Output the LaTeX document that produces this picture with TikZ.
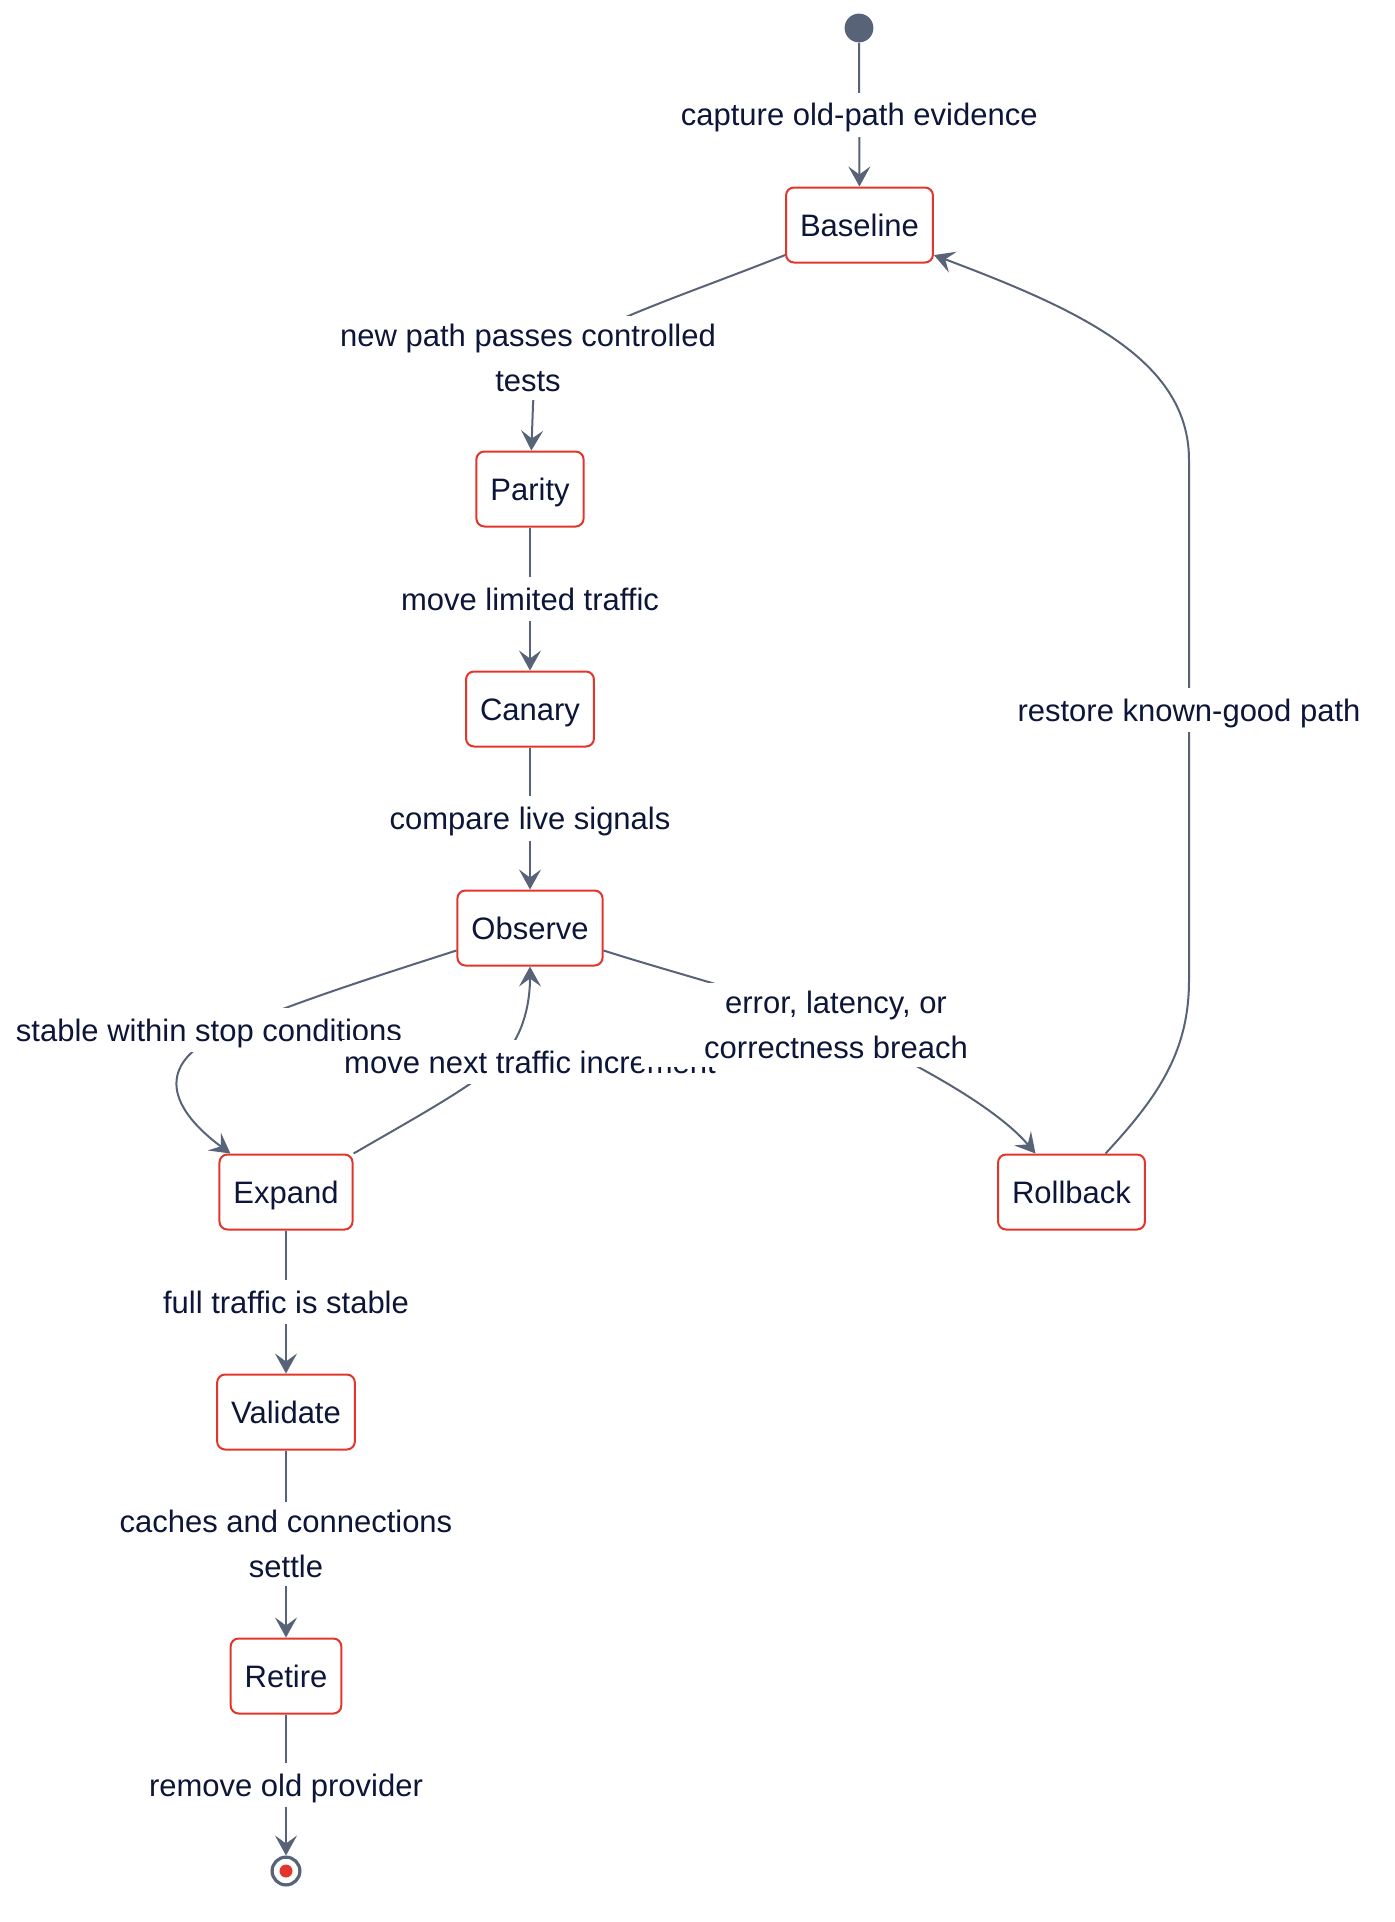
\documentclass[tikz,border=0pt]{standalone}
\usepackage{fontspec}
\setmainfont{Liberation Sans}
\usetikzlibrary{arrows.meta}
\definecolor{rojocaja}{RGB}{226,54,43}
\definecolor{tinta}{RGB}{13,22,56}
\definecolor{gris}{RGB}{88,99,120}
\begin{document}
\begin{tikzpicture}[x=0.5pt,y=-0.5pt,font=\fontsize{15.5}{22.5}\selectfont,
  estado/.style={draw=rojocaja,line width=1pt,rounded corners=4pt,fill=white,text=tinta,minimum height=37.5pt,inner xsep=7pt,text height=14.6pt,text depth=3.5pt},
  etiqueta/.style={fill=white,text=tinta,inner xsep=1pt,inner ysep=4pt,align=center},
  unalinea/.style={etiqueta,inner ysep=2pt,text height=14.6pt,text depth=3.5pt},
  flechita/.style={draw=gris,line width=1pt,-{Stealth[length=10pt,width=11pt,inset=4pt]}}]
\useasboundingbox (0,0) rectangle (1394,1922);
% Estados
\node[circle,fill=gris,minimum size=14.4pt,inner sep=0pt] (inicio) at (859,28) {};
\node[estado] (Baseline) at (859.5,225) {Baseline};
\node[estado] (Parity) at (530,489) {Parity};
\node[estado] (Canary) at (530,709) {Canary};
\node[estado] (Observe) at (530,928) {Observe};
\node[estado] (Expand) at (286,1192) {Expand};
\node[estado] (Rollback) at (1071.5,1192) {Rollback};
\node[estado] (Validate) at (286,1412) {Validate};
\node[estado] (Retire) at (286,1676) {Retire};
\node[circle,draw=gris,line width=1.6pt,minimum size=13.9pt,inner sep=0pt] (fin) at (286,1871) {};
\fill[rojocaja] (fin) circle (3.25pt);
% Transiciones rectas
\draw[flechita] (inicio) -- node[unalinea] {capture old-path evidence} (Baseline);
\draw[flechita] (Parity) -- node[unalinea] {move limited traffic} (Canary);
\draw[flechita] (Canary) -- node[unalinea] {compare live signals} (Observe);
\draw[flechita] (Expand) -- node[unalinea] {full traffic is stable} (Validate);
\draw[flechita] (Validate) -- node[etiqueta] {caches and connections\\settle} (Retire);
\draw[flechita] (Retire) -- node[unalinea] {remove old provider} (fin);
% Transiciones curvas, las etiquetas van encima
\draw[flechita] (Baseline.202) .. controls (620,320) and (535,340) .. (533,405) -- (Parity);
\draw[flechita] (Observe.197) .. controls (390,972) and (300,1000) .. (230,1030) .. controls (155,1060) and (165,1105) .. ([xshift=6pt]Expand.north west);
\draw[flechita] (Expand.north east) .. controls (420,1115) and (475,1085) .. (500,1060) .. controls (525,1035) and (530,1000) .. (Observe.south);
\draw[flechita] (Observe.-17) .. controls (680,975) and (780,1000) .. (834,1025) .. controls (888,1050) and (990,1100) .. ([xshift=-18pt]Rollback.north);
\draw[flechita] ([xshift=17pt]Rollback.north) .. controls (1160,1095) and (1189,1050) .. (1189,980) -- (1189,460) .. controls (1189,360) and (1080,310) .. (Baseline.-22);
\node[etiqueta] (lblnuevo) at (528,358) {new path passes controlled\\tests};
\node[unalinea] (lblestable) at (209,1030) {stable within stop conditions};
\node[unalinea] (lblmover) at (530,1062) {move next traffic increment};
\node[etiqueta,minimum width=195pt] (lblerror) at (836,1025) {error, latency, or\\correctness breach};
\node[unalinea] (lblrestaurar) at (1189,710) {restore known-good path};
\end{tikzpicture}
\end{document}
